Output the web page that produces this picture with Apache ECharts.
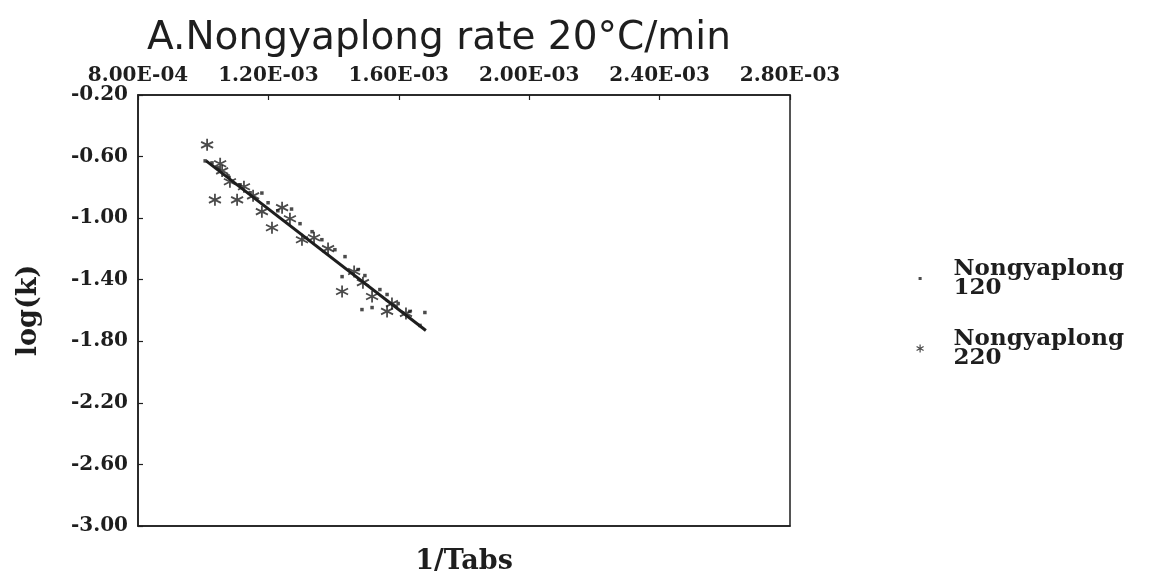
<!DOCTYPE html>
<html><head><meta charset="utf-8">
<script src="https://cdn.jsdelivr.net/npm/echarts@6/dist/echarts.min.js"></script>
<style>html,body{margin:0;padding:0;background:#fff}#c{width:1154px;height:580px}</style>
</head><body><div id="c"></div>
<script>
const titleText = 'A.Nongyaplong rate 20°C/min';
const xAxisName = '1/Tabs';
const yAxisName = 'log(k)';
const xTickLabels = ['8.00E-04','1.20E-03','1.60E-03','2.00E-03','2.40E-03','2.80E-03'];
const yTickLabels = ['-3.00','-2.60','-2.20','-1.80','-1.40','-1.00','-0.60','-0.20'];
const seriesNames = ['Nongyaplong\n120', 'Nongyaplong\n220'];

// Nongyaplong 120 (dots): [1/Tabs, log(k)]
const n120 = [
  [0.001006,-0.628],[0.001027,-0.641],[0.001045,-0.673],[0.001076,-0.725],
  [0.001113,-0.783],[0.001144,-0.835],[0.001180,-0.837],[0.001199,-0.900],
  [0.001229,-0.952],[0.001271,-0.941],[0.001297,-1.036],[0.001334,-1.088],
  [0.001364,-1.140],[0.001404,-1.205],[0.001435,-1.250],[0.001426,-1.380],
  [0.001475,-1.334],[0.001496,-1.373],[0.001487,-1.594],[0.001518,-1.581],
  [0.001542,-1.464],[0.001564,-1.496],[0.001598,-1.555],[0.001634,-1.606],
  [0.001680,-1.613],[0.001665,-1.697]
];
// Nongyaplong 220 (asterisks)
const n220 = [
  [0.001012,-0.524],[0.001052,-0.647],[0.001058,-0.693],[0.001082,-0.764],
  [0.001036,-0.881],[0.001104,-0.881],[0.001125,-0.796],[0.001153,-0.855],
  [0.001180,-0.958],[0.001242,-0.932],[0.001211,-1.062],[0.001266,-1.004],
  [0.001303,-1.140],[0.001340,-1.127],[0.001383,-1.198],[0.001463,-1.347],
  [0.001426,-1.477],[0.001490,-1.419],[0.001518,-1.509],[0.001564,-1.606],
  [0.001579,-1.555],[0.001622,-1.619]
];
// fitted regression line end points
const fitLine = [[0.001009,-0.628],[0.001683,-1.730]];

const ink = '#1e1e1e';
const serif = 'DejaVu Serif';
const starPath = 'path://M0,-10L0,10M-8.7,-5L8.7,5M-8.7,5L8.7,-5';
const starIcon = 'path://M-10,-10M10,10M0,-9L0,9M-7.8,-4.5L7.8,4.5M-7.8,4.5L7.8,-4.5';
const dotIcon = 'path://M0,0M10,10M3.3,3.3L6.7,3.3L6.7,6.7L3.3,6.7Z';

const chart = echarts.init(document.getElementById('c'));
chart.setOption({
  animation: false,
  backgroundColor: '#fff',
  title: {
    text: titleText, left: 142, top: 14,
    textStyle: {fontFamily: 'DejaVu Sans', fontWeight: 'normal', fontSize: 39, color: ink}
  },
  grid: {left: 138, right: 364, top: 95, bottom: 53, show: true, borderColor: ink, borderWidth: 1.5, backgroundColor: 'transparent'},
  legend: {
    orient: 'vertical', left: 910, top: 245, itemWidth: 9, itemHeight: 9, itemGap: 13,
    selectedMode: false,
    data: [
      {name: seriesNames[0], icon: dotIcon},
      {name: seriesNames[1], icon: starIcon, itemStyle: {color: ink, borderColor: ink, borderWidth: 1.2}}
    ],
    textStyle: {fontFamily: serif, fontWeight: 'bold', fontSize: 23, color: ink, lineHeight: 19, padding: [19, 0, 0, 24]}
  },
  xAxis: [{
    type: 'value', position: 'top', min: 0.0008, max: 0.0028, interval: 0.0004,
    axisLine: {show: true, lineStyle: {color: ink, width: 1.5}},
    axisTick: {show: true, inside: true, length: 5, lineStyle: {color: ink, width: 1.2}},
    axisLabel: {
      margin: 9, fontFamily: serif, fontWeight: 'bold', fontSize: 20, color: ink,
      formatter: v => xTickLabels[Math.round((v - 0.0008) / 0.0004)] || ''
    },
    splitLine: {show: false}
  }, {
    type: 'value', position: 'bottom', min: 0.0008, max: 0.0028,
    axisLine: {show: true, lineStyle: {color: ink, width: 1.5}},
    axisTick: {show: false}, axisLabel: {show: false}, splitLine: {show: false},
    name: xAxisName, nameLocation: 'middle', nameGap: 22,
    nameTextStyle: {fontFamily: serif, fontWeight: 'bold', fontSize: 27, color: ink}
  }],
  yAxis: {
    type: 'value', min: -3.0, max: -0.2, interval: 0.4,
    name: yAxisName, nameLocation: 'middle', nameGap: 96, nameRotate: 90,
    nameTextStyle: {fontFamily: serif, fontWeight: 'bold', fontSize: 27, color: ink},
    axisLine: {show: true, lineStyle: {color: ink, width: 1.5}},
    axisTick: {show: true, inside: true, length: 5, lineStyle: {color: ink, width: 1.2}},
    axisLabel: {
      margin: 10, fontFamily: serif, fontWeight: 'bold', fontSize: 20, color: ink,
      formatter: v => yTickLabels[Math.round((v + 3.0) / 0.4)] || ''
    },
    splitLine: {show: false}
  },
  series: [
    {name: seriesNames[0], type: 'scatter', xAxisIndex: 0, data: n120, symbol: 'rect', symbolSize: 3.5,
     itemStyle: {color: ink}, silent: true},
    {name: seriesNames[1], type: 'scatter', xAxisIndex: 0, data: n220, symbol: starPath, symbolSize: 12,
     itemStyle: {color: ink, borderColor: ink, borderWidth: 1.8}, silent: true},
    {name: 'fit', type: 'line', xAxisIndex: 0, data: fitLine, showSymbol: false, symbol: 'none',
     lineStyle: {color: ink, width: 3}, silent: true, z: 1}
  ]
});
</script></body></html>
